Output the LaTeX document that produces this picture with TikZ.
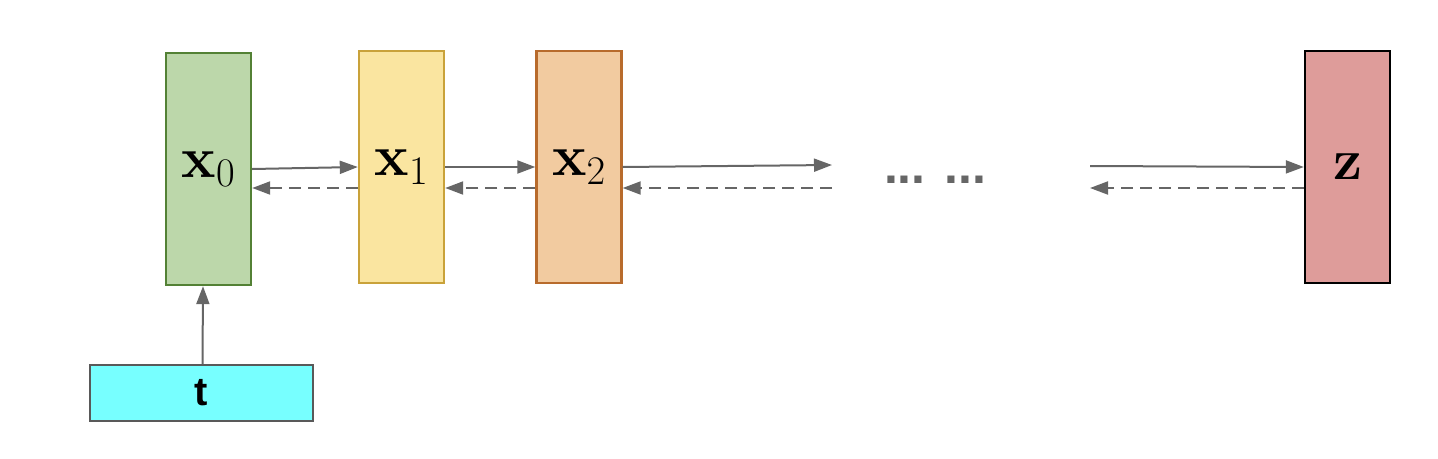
\RequirePackage{fix-cm}
\documentclass[tikz,border=0pt]{standalone}
\usepackage[no-math]{fontspec}
\newfontfamily\arialfont{Liberation Sans}
\usetikzlibrary{arrows.meta}
\definecolor{greenfill}{HTML}{BCD7AA}
\definecolor{greenline}{HTML}{538135}
\definecolor{yellowfill}{HTML}{FAE5A0}
\definecolor{yellowline}{HTML}{C9A23A}
\definecolor{orangefill}{HTML}{F2CBA0}
\definecolor{orangeline}{HTML}{B86B2C}
\definecolor{redfill}{HTML}{DE9C9A}
\definecolor{cyanfill}{HTML}{77FFFF}
\definecolor{arrowgray}{HTML}{666666}
\tikzset{
  layer/.style={draw, line width=2.4pt, minimum width=85pt, minimum height=232pt,
    inner sep=0pt, font=\fontsize{58}{62}\selectfont},
  fwd/.style={draw=arrowgray, line width=2pt, -{Triangle[length=18pt,width=13pt]}},
  bwd/.style={fwd, dash pattern=on 12pt off 7pt},
}
\begin{document}
\begin{tikzpicture}[x=1pt, y=-1pt]
  \useasboundingbox (0,0) rectangle (1438,458);
  \node[layer, fill=greenfill, draw=greenline] (x0) at (208.5,169) {$\mathbf{x}_0$};
  \node[layer, fill=yellowfill, draw=yellowline] (x1) at (401.5,167) {$\mathbf{x}_1$};
  \node[layer, fill=orangefill, draw=orangeline] (x2) at (579,167) {$\mathbf{x}_2$};
  \node[layer, fill=redfill, draw=black] (z) at (1347.5,167) {$\mathbf{z}$};
  \node[draw=black!65, line width=2pt, fill=cyanfill, minimum width=223pt,
    minimum height=56pt, inner sep=0pt, font=\arialfont\bfseries\fontsize{40}{44}\selectfont]
    (t) at (201.5,393) {t};
  \node[text=arrowgray, font=\arialfont\bfseries\fontsize{50}{54}\selectfont]
    (dots) at (935,180) {... ...};
  \coordinate (gapL) at (832,165);
  \coordinate (gapR) at (1090,166);
  \coordinate (gapLd) at (832,188);
  \coordinate (gapRd) at (1090,188);
  \begin{scope}
    \draw[fwd] (x0.east) -- (x1.west);
    \draw[fwd] (x1.east) -- (x2.west);
    \draw[fwd] (x2.east) -- (gapL);
    \draw[fwd] (gapR) -- (z.west);
    \draw[bwd] ([yshift=-21pt]x1.west) -- ([yshift=-19pt]x0.east);
    \draw[bwd] ([yshift=-21pt]x2.west) -- ([yshift=-21pt]x1.east);
    \draw[bwd] (gapLd) -- ([yshift=-21pt]x2.east);
    \draw[bwd] ([yshift=-21pt]z.west) -- (gapRd);
    \draw[fwd] ([xshift=1pt]t.north) -- ([xshift=-5.5pt]x0.south);
  \end{scope}
\end{tikzpicture}
\end{document}
